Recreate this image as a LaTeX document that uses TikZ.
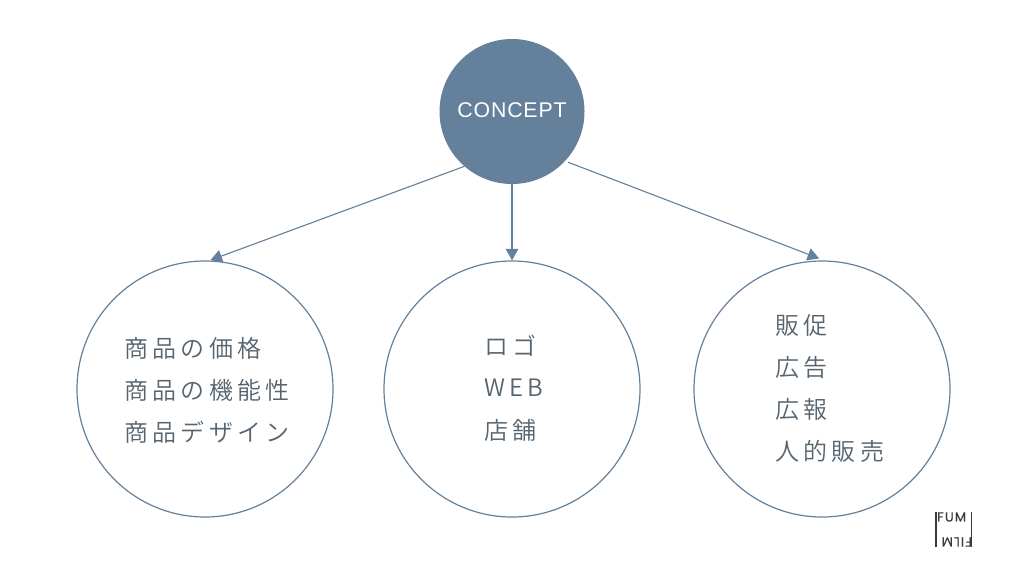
\documentclass[tikz,border=0pt]{standalone}
\usepackage{fontspec}
\newfontfamily\jpfont[LetterSpace=18]{Noto Sans CJK JP DemiLight}
\newfontfamily\conceptfont[LetterSpace=4]{Liberation Sans}
\newfontfamily\logofont[LetterSpace=9,FakeBold=0.4]{Poppins}
\usetikzlibrary{arrows.meta}
\definecolor{slateblue}{HTML}{64809B}
\definecolor{inktext}{HTML}{56646F}
\definecolor{logoink}{HTML}{3A3A3A}
\tikzset{
  x=1pt,y=-1pt,
  hub/.style={circle,fill=slateblue,draw=none,minimum size=145pt,inner sep=0pt,text=white,font=\conceptfont\fontsize{21.3}{24}\selectfont},
  topic/.style={circle,draw=slateblue,line width=1.2pt,minimum size=256pt,inner sep=0pt},
  label/.style={text=inktext,anchor=west,inner sep=0pt,font=\jpfont\fontsize{24}{28}\selectfont},
  link/.style={draw=slateblue,line width=1.1pt,-{Triangle[length=11.5pt,width=12.5pt]}},
  logotext/.style={text=logoink,inner sep=0pt,font=\logofont\fontsize{13}{13}\selectfont},
}
\begin{document}
\begin{tikzpicture}
  \useasboundingbox[fill=white] (0,0) rectangle (1024,576);

  % Central concept and the three topic circles
  \node[hub] (concept) at (512,111.5) {\raisebox{2pt}{CONCEPT}};
  \node[topic] (left) at (205,389) {};
  \node[topic] (mid) at (512,389) {};
  \node[topic] (right) at (822,389) {};

  % Connectors
  \draw[link,shorten >=1pt] (concept.229) -- (left.88);
  \draw[link] (concept.south) -- (mid.north);
  \draw[link,shorten <=3pt,shorten >=5.5pt] (concept.317) -- (right.89);

  % Left circle
  \node[label] (l1) at (124,348) {商品の価格};
  \node[label] (l2) at (124,390) {商品の機能性};
  \node[label] (l3) at (124,432) {商品デザイン};

  % Middle circle
  \node[label] (m1) at (484,346) {ロゴ};
  \node[label] (m2) at (484,388) {WEB};
  \node[label] (m3) at (484,430) {店舗};

  % Right circle
  \node[label] (r1) at (775,325) {販促};
  \node[label] (r2) at (775,367) {広告};
  \node[label] (r3) at (775,409) {広報};
  \node[label] (r4) at (775,451) {人的販売};

  % Logo mark
  \node[logotext,anchor=west] (fum) at (937,517) {FUM};
  \node[logotext,anchor=west,rotate=180] (film) at (972,542) {FILM};
  \draw[logoink,line width=1.2pt] (936,512) -- (936,547);
  \draw[logoink,line width=1.2pt] (971.5,512) -- (971.5,547);
\end{tikzpicture}
\end{document}
